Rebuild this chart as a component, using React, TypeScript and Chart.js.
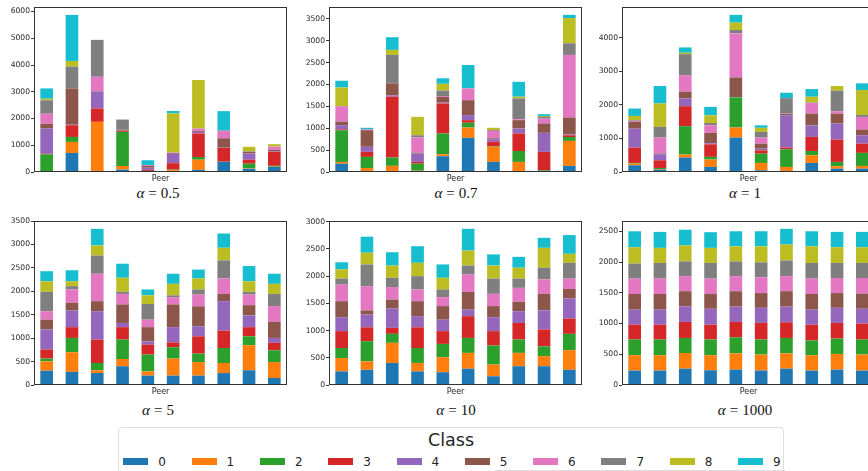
import React, { useEffect, useRef } from 'react';
import { Chart, registerables } from 'chart.js';

Chart.register(...registerables);

// Class labels and the tab10 palette used for them
const classes = ['0', '1', '2', '3', '4', '5', '6', '7', '8', '9'];
const classColors = [
  '#1f77b4', '#ff7f0e', '#2ca02c', '#d62728', '#9467bd',
  '#8c564b', '#e377c2', '#7f7f7f', '#bcbd22', '#17becf',
];
const peers = ['0', '1', '2', '3', '4', '5', '6', '7', '8', '9'];

// Samples per class held by each peer (one row per peer, columns = classes 0..9)
const alpha05 = [
  [10, 10, 640, 20, 950, 170, 380, 500, 60, 385],
  [710, 415, 185, 440, 20, 1355, 0, 815, 210, 1725],
  [10, 1865, 0, 500, 625, 20, 540, 1380, 0, 0],
  [90, 135, 1275, 40, 10, 30, 0, 380, 0, 0],
  [20, 10, 10, 40, 80, 70, 30, 0, 0, 180],
  [30, 40, 20, 240, 350, 30, 20, 0, 1460, 90],
  [80, 380, 100, 880, 60, 40, 85, 0, 1815, 0],
  [375, 0, 10, 515, 10, 350, 280, 10, 0, 725],
  [120, 20, 170, 150, 230, 60, 0, 20, 170, 0],
  [190, 10, 30, 520, 20, 60, 120, 0, 90, 0],
];
const alpha07 = [
  [190, 40, 725, 20, 95, 80, 355, 0, 425, 155],
  [10, 80, 255, 115, 115, 380, 20, 0, 0, 35],
  [10, 130, 190, 1390, 30, 275, 0, 650, 115, 290],
  [20, 10, 160, 40, 190, 20, 350, 50, 420, 0],
  [360, 45, 475, 685, 20, 130, 20, 125, 155, 125],
  [780, 235, 110, 60, 115, 340, 270, 0, 0, 535],
  [230, 345, 10, 105, 60, 20, 170, 20, 50, 0],
  [10, 220, 250, 400, 115, 190, 20, 475, 40, 340],
  [10, 10, 20, 420, 435, 215, 110, 40, 20, 40],
  [140, 570, 90, 40, 20, 385, 1430, 265, 575, 75],
];
const alpha1 = [
  [200, 50, 20, 455, 565, 200, 30, 20, 130, 220],
  [70, 20, 30, 230, 180, 20, 475, 320, 695, 520],
  [430, 90, 845, 595, 230, 200, 495, 625, 40, 160],
  [150, 220, 80, 375, 30, 310, 225, 70, 230, 250],
  [1025, 300, 895, 0, 10, 585, 1315, 100, 220, 230],
  [50, 220, 275, 100, 50, 150, 180, 170, 120, 75],
  [20, 130, 525, 50, 965, 40, 10, 460, 0, 160],
  [270, 230, 125, 420, 345, 350, 320, 10, 170, 230],
  [100, 70, 130, 665, 480, 295, 70, 610, 140, 0],
  [100, 80, 390, 275, 250, 170, 375, 60, 740, 200],
];
const alpha5 = [
  [305, 200, 60, 190, 430, 210, 180, 415, 225, 215],
  [280, 420, 305, 230, 355, 165, 285, 70, 105, 235],
  [255, 60, 155, 500, 605, 215, 585, 390, 215, 355],
  [400, 155, 415, 265, 90, 395, 225, 45, 300, 300],
  [200, 90, 360, 210, 70, 305, 160, 335, 185, 125],
  [200, 365, 240, 105, 325, 485, 155, 40, 245, 215],
  [200, 290, 180, 370, 215, 425, 250, 110, 235, 190],
  [255, 215, 320, 370, 630, 155, 330, 385, 270, 305],
  [315, 535, 190, 195, 250, 220, 225, 60, 225, 325],
  [150, 340, 250, 160, 105, 345, 335, 260, 215, 215],
];
const alpha10 = [
  [250, 245, 185, 310, 255, 295, 305, 110, 170, 130],
  [280, 155, 370, 255, 235, 75, 445, 400, 215, 295],
  [405, 370, 165, 110, 355, 165, 230, 170, 225, 245],
  [250, 155, 275, 380, 205, 275, 215, 245, 245, 305],
  [235, 275, 245, 235, 210, 250, 165, 140, 215, 245],
  [300, 290, 275, 400, 120, 325, 320, 165, 275, 400],
  [160, 215, 350, 265, 255, 205, 225, 280, 240, 205],
  [345, 245, 245, 305, 215, 175, 255, 170, 200, 200],
  [345, 185, 180, 310, 350, 305, 265, 215, 365, 185],
  [280, 360, 300, 280, 370, 175, 190, 290, 165, 345],
];
const alpha1000 = [
  [235, 250, 255, 240, 245, 255, 250, 245, 265, 260],
  [235, 250, 255, 240, 245, 255, 250, 255, 245, 260],
  [265, 255, 245, 260, 255, 245, 245, 240, 260, 255],
  [240, 245, 255, 240, 260, 240, 250, 255, 245, 255],
  [250, 265, 260, 250, 250, 250, 245, 240, 245, 245],
  [235, 260, 245, 270, 245, 240, 255, 245, 260, 245],
  [265, 250, 250, 255, 255, 250, 245, 255, 260, 255],
  [235, 250, 240, 255, 245, 255, 250, 255, 270, 245],
  [250, 255, 250, 255, 245, 240, 245, 245, 255, 250],
  [235, 260, 245, 260, 240, 245, 255, 245, 255, 250],
];

const TEXT = '#262626';
const SANS = "'DejaVu Sans', sans-serif";

type Box = {
  left: number; top: number; width: number; height: number;
  axisWidth: number; padTop: number; padRight: number; xAxisHeight: number;
};

type PanelSpec = { alpha: string; counts: number[][]; step: number; box: Box; titleX: number; titleY: number };

const ROW1 = { top: 0, height: 183, padTop: 7 };
const ROW2 = { top: 210, height: 186, padTop: 11 };
const COL1 = { left: 0, width: 292, axisWidth: 34, padRight: 5 };
const COL2 = { left: 292, width: 292, axisWidth: 37, padRight: 2 };
const COL3 = { left: 584, width: 292, axisWidth: 38, padRight: 1 };

const mk = (c: typeof COL1, r: typeof ROW1): Box => ({
  left: c.left, width: c.width, axisWidth: c.axisWidth, padRight: c.padRight,
  top: r.top, height: r.height, padTop: r.padTop, xAxisHeight: 11,
});

const panels: PanelSpec[] = [
  { alpha: '0.5', counts: alpha05, step: 1000, box: mk(COL1, ROW1), titleX: 158, titleY: 193 },
  { alpha: '0.7', counts: alpha07, step: 500, box: mk(COL2, ROW1), titleX: 456, titleY: 193 },
  { alpha: '1', counts: alpha1, step: 1000, box: mk(COL3, ROW1), titleX: 745, titleY: 193 },
  { alpha: '5', counts: alpha5, step: 500, box: mk(COL1, ROW2), titleX: 158, titleY: 410 },
  { alpha: '10', counts: alpha10, step: 500, box: mk(COL2, ROW2), titleX: 456, titleY: 410 },
  { alpha: '1000', counts: alpha1000, step: 500, box: mk(COL3, ROW2), titleX: 745, titleY: 410 },
];

// Axes frame drawn around the plotting area
const framePlugin = {
  id: 'axesFrame',
  afterDraw(chart: any) {
    const { ctx, chartArea: a } = chart;
    ctx.save();
    ctx.strokeStyle = '#333333';
    ctx.lineWidth = 1;
    ctx.strokeRect(a.left + 0.5, a.top + 0.5, a.right - a.left - 1, a.bottom - a.top - 1);
    ctx.restore();
  },
};

function StackedPanel({ spec }: { spec: PanelSpec }) {
  const ref = useRef<HTMLCanvasElement | null>(null);
  const { box } = spec;

  useEffect(() => {
    if (!ref.current) return;
    const totals = spec.counts.map((row) => row.reduce((s, v) => s + v, 0));
    // 5% headroom above the tallest stack
    const yMax = Math.max(...totals) * 1.05;
    const tickValues: number[] = [];
    for (let v = 0; v <= yMax; v += spec.step) tickValues.push(v);

    const chart = new Chart(ref.current, {
      type: 'bar',
      data: {
        labels: peers,
        datasets: classes.map((c, i) => ({
          label: c,
          data: spec.counts.map((row) => row[i]),
          backgroundColor: classColors[i],
          borderWidth: 0,
          barPercentage: 0.5,
          categoryPercentage: 1,
        })),
      },
      options: {
        animation: false,
        responsive: false,
        maintainAspectRatio: false,
        devicePixelRatio: 1,
        events: [],
        layout: { padding: { left: 0, top: box.padTop, right: box.padRight, bottom: 0 } },
        plugins: {
          legend: { display: false },
          tooltip: { enabled: false },
          title: { display: false },
        },
        scales: {
          x: {
            stacked: true,
            offset: true,
            ticks: { display: false },
            grid: { display: false },
            border: { display: false },
            title: {
              display: true,
              text: 'Peer',
              color: TEXT,
              padding: 0,
              font: { family: SANS, size: 8, lineHeight: 1 },
            },
            afterFit: (s: any) => { s.height = box.xAxisHeight; },
          },
          y: {
            stacked: true,
            min: 0,
            max: yMax,
            ticks: {
              color: TEXT,
              padding: 1,
              font: { family: SANS, size: 7.6 },
              callback: (v: any) => String(v),
            },
            afterBuildTicks: (s: any) => {
              s.ticks = tickValues.map((v) => ({ value: v }));
            },
            grid: { drawOnChartArea: false, drawTicks: true, tickLength: 3, color: '#333333', lineWidth: 1 },
            border: { display: false },
            afterFit: (s: any) => { s.width = box.axisWidth; },
          },
        },
      },
      plugins: [framePlugin],
    } as any);
    return () => chart.destroy();
  }, [spec]);

  return (
    <canvas
      ref={ref}
      width={box.width}
      height={box.height}
      style={{ position: 'absolute', left: box.left, top: box.top, width: box.width, height: box.height }}
    />
  );
}

function PanelTitle({ spec }: { spec: PanelSpec }) {
  return (
    <div
      style={{
        position: 'absolute',
        left: spec.titleX,
        top: spec.titleY,
        transform: 'translate(-50%, -50%)',
        whiteSpace: 'nowrap',
        fontFamily: "'Liberation Serif', serif",
        fontSize: 15,
        lineHeight: '15px',
        color: '#111',
      }}
    >
      <span style={{ fontStyle: 'italic' }}>α</span>
      <span style={{ margin: '0 4px' }}>=</span>
      <span>{spec.alpha}</span>
    </div>
  );
}

function ClassLegend() {
  return (
    <>
      <div
        style={{
          position: 'absolute',
          left: 118,
          top: 427,
          width: 666,
          height: 60,
          border: '1px solid #dedede',
          borderTopLeftRadius: 4,
          borderTopRightRadius: 4,
          boxSizing: 'border-box',
          background: '#fff',
        }}
      />
      <div
        style={{
          position: 'absolute',
          left: 451,
          top: 440,
          transform: 'translate(-50%, -50%)',
          fontFamily: SANS,
          fontSize: 17.5,
          lineHeight: '18px',
          color: TEXT,
        }}
      >
        Class
      </div>
      {classes.map((c, i) => {
        const x = 123.3 + i * 68.3;
        return (
          <React.Fragment key={c}>
            <div
              style={{
                position: 'absolute',
                left: x,
                top: 457.5,
                width: 25,
                height: 7,
                background: classColors[i],
              }}
            />
            <div
              style={{
                position: 'absolute',
                left: x + 35,
                top: 461.5,
                transform: 'translateY(-50%)',
                fontFamily: SANS,
                fontSize: 12,
                lineHeight: '12px',
                color: TEXT,
              }}
            >
              {c}
            </div>
          </React.Fragment>
        );
      })}
      <div style={{ position: 'absolute', left: 495, top: 469.5, width: 290, height: 1, background: '#dedede' }} />
    </>
  );
}

export default function App() {
  return (
    <div
      style={{
        position: 'absolute',
        left: 0,
        top: 0,
        width: 868,
        height: 471,
        overflow: 'hidden',
        background: '#ffffff',
      }}
    >
      {panels.map((p) => (
        <StackedPanel key={p.alpha} spec={p} />
      ))}
      {panels.map((p) => (
        <PanelTitle key={'t' + p.alpha} spec={p} />
      ))}
      <ClassLegend />
    </div>
  );
}
